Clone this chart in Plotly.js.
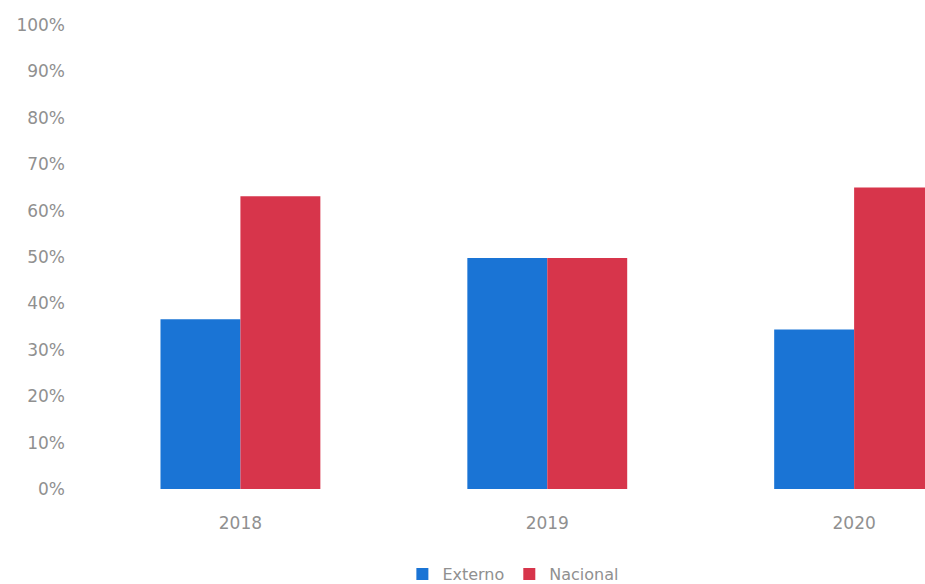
<!DOCTYPE html>
<html>
<head>
<meta charset="utf-8">
<script src="https://cdn.plot.ly/plotly-3.0.1.min.js"></script>
<style>html,body{margin:0;padding:0;background:#fff;overflow:hidden;}#chart{width:925px;height:584px;}</style>
</head>
<body>
<div id="chart"></div>
<script>
const years = ['2018', '2019', '2020'];
const externo = [0.366, 0.498, 0.344];
const nacional = [0.631, 0.498, 0.65];
const yTicks = [0, 0.1, 0.2, 0.3, 0.4, 0.5, 0.6, 0.7, 0.8, 0.9, 1.0];

const traces = [
  {type: 'bar', name: 'Externo', x: years, y: externo, marker: {color: '#1a74d5'}, hoverinfo: 'y'},
  {type: 'bar', name: 'Nacional', x: years, y: nacional, marker: {color: '#d7354b'}, hoverinfo: 'y'}
];

const layout = {
  width: 925, height: 584,
  margin: {l: 87, r: 0, t: 25, b: 95},
  paper_bgcolor: '#ffffff', plot_bgcolor: '#ffffff',
  font: {family: 'DejaVu Sans, sans-serif', color: '#909090', size: 16},
  barmode: 'group', bargap: 0.479, bargroupgap: 0,
  xaxis: {
    type: 'category', range: [-0.5, 2.231], showgrid: false, zeroline: false, showline: false,
    ticks: '', ticklabelstandoff: 22, tickfont: {size: 17, color: '#909090'}
  },
  yaxis: {
    range: [0, 1], tickvals: yTicks, tickformat: '.0%', showgrid: false, zeroline: false,
    showline: false, ticks: '', ticklabelstandoff: 21, tickfont: {size: 17, color: '#909090'}
  },
  showlegend: true,
  legend: {
    orientation: 'h', xref: 'container', yref: 'container', x: 0.555, xanchor: 'center',
    y: 0.017, yanchor: 'middle', font: {size: 16, color: '#909090'}, itemwidth: 30, tracegroupgap: 0
  }
};

Plotly.newPlot('chart', traces, layout, {displayModeBar: false, staticPlot: true});
</script>
</body>
</html>
